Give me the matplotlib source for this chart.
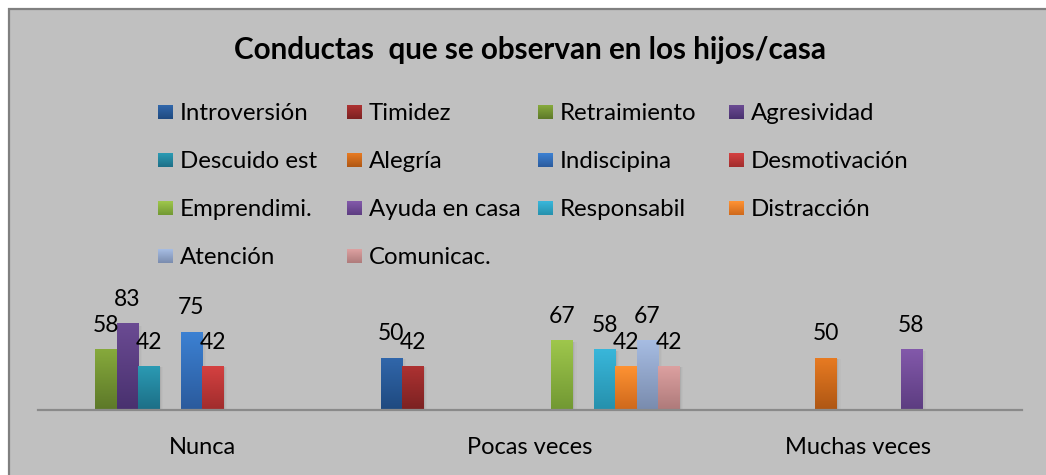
import numpy as np
import matplotlib
matplotlib.use("Agg")
import matplotlib.pyplot as plt
from matplotlib.colors import to_rgb

plt.rcParams['font.family'] = ['Lato', 'DejaVu Sans']

# ---- data -------------------------------------------------------------
title = "Conductas  que se observan en los hijos/casa"
categories = ["Nunca", "Pocas veces", "Muchas veces"]
series_names = [
    "Introversión", "Timidez", "Retraimiento", "Agresividad",
    "Descuido est", "Alegría", "Indiscipina", "Desmotivación",
    "Emprendimi.", "Ayuda en casa", "Responsabil", "Distracción",
    "Atención", "Comunicac.",
]
nan = np.nan
introversion = [nan, 50, nan]
timidez = [nan, 42, nan]
retraimiento = [58, nan, nan]
agresividad = [83, nan, nan]
descuido = [42, nan, nan]
alegria = [nan, nan, 50]
indiscipina = [75, nan, nan]
desmotivacion = [42, nan, nan]
emprendimiento = [nan, 67, nan]
ayuda_casa = [nan, nan, 58]
responsabilidad = [nan, 58, nan]
distraccion = [nan, 42, nan]
atencion = [nan, 67, nan]
comunicacion = [nan, 42, nan]
series_values = [
    introversion, timidez, retraimiento, agresividad, descuido, alegria,
    indiscipina, desmotivacion, emprendimiento, ayuda_casa, responsabilidad,
    distraccion, atencion, comunicacion,
]

# gradient colours (top, bottom) for every series
series_colors = [
    ("#3167AB", "#1F4A80"), ("#AE3232", "#7C2222"), ("#87AA3C", "#5D7929"),
    ("#6B4B93", "#49316F"), ("#2B9BB4", "#1D6F87"), ("#E87B22", "#AF5714"),
    ("#3C81D3", "#2B5B9D"), ("#D54141", "#A12D2D"), ("#9FC74C", "#729933"),
    ("#8359AB", "#5D3D81"), ("#39B7DB", "#2691AD"), ("#FF9333", "#CF691C"),
    ("#A7BDE3", "#7A8CAE"), ("#DDA1A1", "#AF7B7B"),
]

W, H = 1046, 475
fig = plt.figure(figsize=(W / 100, H / 100), dpi=100, facecolor="white")

# ---- background panel in pixel coordinates ---------------------------
bg = fig.add_axes([0, 0, 1, 1], zorder=0)
bg.set_xlim(0, W)
bg.set_ylim(H, 0)
bg.axis("off")
bg.add_patch(plt.Rectangle((8, 8), W, H, facecolor="#C0C0C0", edgecolor="none"))
bg.plot([8, W], [8.5, 8.5], color="#808080", lw=1.6, solid_capstyle="butt")
bg.plot([8.5, 8.5], [8, H], color="#808080", lw=1.6, solid_capstyle="butt")

bg.text(530, 50, title, ha="center", va="center", fontsize=21.3,
        fontweight="bold", color="black")


def gradient(top, bottom, n=64):
    t = np.linspace(0, 1, n)[:, None, None]
    a = np.array(to_rgb(top))[None, None, :]
    b = np.array(to_rgb(bottom))[None, None, :]
    return a * (1 - t) + b * t


# ---- legend (4 columns) ------------------------------------------------
col_x = [158, 347, 538, 729]
row_y = [112, 160, 208, 256]
for i, name in enumerate(series_names):
    r, c = divmod(i, 4)
    x0, yc = col_x[c], row_y[r]
    top, bottom = series_colors[i]
    bg.imshow(gradient(top, bottom), extent=(x0, x0 + 15, yc + 7, yc - 7),
              aspect="auto", interpolation="bilinear", zorder=2)
    bg.text(x0 + 22, yc + 7.5, name, ha="left", va="baseline", fontsize=17.3,
            color="black")
bg.set_xlim(0, W)
bg.set_ylim(H, 0)

# ---- bar chart ---------------------------------------------------------
ax_left, ax_right = 38, 1022
ax_bottom = 409.5
px_per_unit = 1.037
ax = fig.add_axes([ax_left / W, (H - ax_bottom) / H,
                   (ax_right - ax_left) / W, 100 * px_per_unit / H], zorder=1)
ax.patch.set_alpha(0)

n_series = len(series_names)
bar_w = 0.065
x = np.arange(len(categories))
for i, (vals, (top, bottom)) in enumerate(zip(series_values, series_colors)):
    pos = x + (i - (n_series - 1) / 2) * bar_w
    bars = ax.bar(pos, np.nan_to_num(vals), width=bar_w, color=top,
                  edgecolor="none", zorder=2)
    for b, v in zip(bars, vals):
        if np.isnan(v):
            b.set_visible(False)
            continue
        bx, bw, bh = b.get_x(), b.get_width(), b.get_height()
        # soft shadow to the right of the bar
        for k, a in enumerate([0.10, 0.06, 0.03]):
            ax.add_patch(plt.Rectangle((bx + bw, 0), 0.004 * (k + 1), bh * 0.97,
                                       facecolor="#606060", alpha=a,
                                       edgecolor="none", zorder=1))
        im = ax.imshow(gradient(top, bottom), extent=(bx, bx + bw, 0, bh),
                       aspect="auto", interpolation="bilinear", zorder=3)
        im.set_clip_path(b)
        ax.annotate(f"{v:g}", (bx + bw / 2, bh), xytext=(0, 12.5),
                    textcoords="offset points", ha="center", va="baseline",
                    fontsize=16.5, color="black", zorder=4,
                    annotation_clip=False)

ax.set_xlim(-0.5, len(categories) - 0.5)
ax.set_ylim(0, 100)
ax.set_yticks([])
ax.set_xticks(x)
ax.set_xticklabels(categories, fontsize=17)
ax.tick_params(axis="x", length=0, pad=20)
for s in ["top", "right", "left"]:
    ax.spines[s].set_visible(False)
ax.spines["bottom"].set_color("#8A8A8A")
ax.spines["bottom"].set_linewidth(1.6)
ax.spines["bottom"].set_zorder(5)

fig.savefig("out.png", dpi=100, facecolor="white")
